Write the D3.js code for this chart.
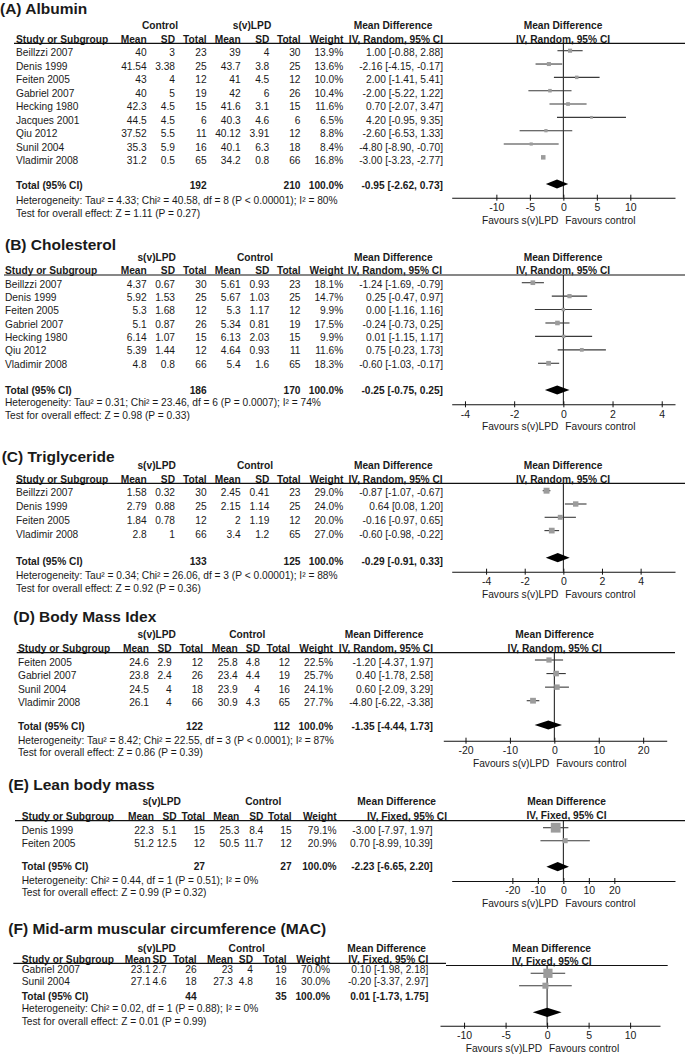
<!DOCTYPE html>
<html><head><meta charset="utf-8">
<script src="https://cdn.jsdelivr.net/npm/d3@7"></script>
<style>
body{margin:0;background:#fff}
svg{display:block}
text{font-family:"Liberation Sans",Arial,sans-serif;fill:#1a1a1a}
</style>
</head><body>
<svg id="chart" width="685" height="1055"></svg>
<script>
// ---------- (A) Albumin ----------
const albStudy = ["Beillzzi 2007","Denis 1999","Feiten 2005","Gabriel 2007","Hecking 1980","Jacques 2001","Qiu 2012","Sunil 2004","Vladimir 2008"];
const albMean1 = [40, 41.54, 43, 40, 42.3, 44.5, 37.52, 35.3, 31.2];
const albSD1   = [3, 3.38, 4, 5, 4.5, 4.5, 5.5, 5.9, 0.5];
const albN1    = [23, 25, 12, 19, 15, 6, 11, 16, 65];
const albMean2 = [39, 43.7, 41, 42, 41.6, 40.3, 40.12, 40.1, 34.2];
const albSD2   = [4, 3.8, 4.5, 6, 3.1, 4.6, 3.91, 6.3, 0.8];
const albN2    = [30, 25, 12, 26, 15, 6, 12, 18, 66];
const albWeight= [13.9, 13.6, 10.0, 10.4, 11.6, 6.5, 8.8, 8.4, 16.8];
const albMD    = [1.00, -2.16, 2.00, -2.00, 0.70, 4.20, -2.60, -4.80, -3.00];
const albLo    = [-0.88, -4.15, -1.41, -5.22, -2.07, -0.95, -6.53, -8.90, -3.23];
const albHi    = [2.88, -0.17, 5.41, 1.22, 3.47, 9.35, 1.33, -0.70, -2.77];
const albTotal = [192, 210, -0.95, -2.62, 0.73];
const albTicks = [-10, -5, 0, 5, 10];

// ---------- (B) Cholesterol ----------
const choStudy = ["Beillzzi 2007","Denis 1999","Feiten 2005","Gabriel 2007","Hecking 1980","Qiu 2012","Vladimir 2008"];
const choMean1 = [4.37, 5.92, 5.3, 5.1, 6.14, 5.39, 4.8];
const choSD1   = [0.67, 1.53, 1.68, 0.87, 1.07, 1.44, 0.8];
const choN1    = [30, 25, 12, 26, 15, 12, 66];
const choMean2 = [5.61, 5.67, 5.3, 5.34, 6.13, 4.64, 5.4];
const choSD2   = [0.93, 1.03, 1.17, 0.81, 2.03, 0.93, 1.6];
const choN2    = [23, 25, 12, 19, 15, 11, 65];
const choWeight= [18.1, 14.7, 9.9, 17.5, 9.9, 11.6, 18.3];
const choMD    = [-1.24, 0.25, 0.00, -0.24, 0.01, 0.75, -0.60];
const choLo    = [-1.69, -0.47, -1.16, -0.73, -1.15, -0.23, -1.03];
const choHi    = [-0.79, 0.97, 1.16, 0.25, 1.17, 1.73, -0.17];
const choTotal = [186, 170, -0.25, -0.75, 0.25];
const choTicks = [-4, -2, 0, 2, 4];

// ---------- (C) Triglyceride ----------
const triStudy = ["Beillzzi 2007","Denis 1999","Feiten 2005","Vladimir 2008"];
const triMean1 = [1.58, 2.79, 1.84, 2.8];
const triSD1   = [0.32, 0.88, 0.78, 1];
const triN1    = [30, 25, 12, 66];
const triMean2 = [2.45, 2.15, 2, 3.4];
const triSD2   = [0.41, 1.14, 1.19, 1.2];
const triN2    = [23, 25, 12, 65];
const triWeight= [29.0, 24.0, 20.0, 27.0];
const triMD    = [-0.87, 0.64, -0.16, -0.60];
const triLo    = [-1.07, 0.08, -0.97, -0.98];
const triHi    = [-0.67, 1.20, 0.65, -0.22];
const triTotal = [133, 125, -0.29, -0.91, 0.33];
const triTicks = [-4, -2, 0, 2, 4];

// ---------- (D) Body Mass Idex ----------
const bmiStudy = ["Feiten 2005","Gabriel 2007","Sunil 2004","Vladimir 2008"];
const bmiMean1 = [24.6, 23.8, 24.5, 26.1];
const bmiSD1   = [2.9, 2.4, 4, 4];
const bmiN1    = [12, 26, 18, 66];
const bmiMean2 = [25.8, 23.4, 23.9, 30.9];
const bmiSD2   = [4.8, 4.4, 4, 4.3];
const bmiN2    = [12, 19, 16, 65];
const bmiWeight= [22.5, 25.7, 24.1, 27.7];
const bmiMD    = [-1.20, 0.40, 0.60, -4.80];
const bmiLo    = [-4.37, -1.78, -2.09, -6.22];
const bmiHi    = [1.97, 2.58, 3.29, -3.38];
const bmiTotal = [122, 112, -1.35, -4.44, 1.73];
const bmiTicks = [-20, -10, 0, 10, 20];

// ---------- (E) Lean body mass ----------
const lbmStudy = ["Denis 1999","Feiten 2005"];
const lbmMean1 = [22.3, 51.2];
const lbmSD1   = [5.1, 12.5];
const lbmN1    = [15, 12];
const lbmMean2 = [25.3, 50.5];
const lbmSD2   = [8.4, 11.7];
const lbmN2    = [15, 12];
const lbmWeight= [79.1, 20.9];
const lbmMD    = [-3.00, 0.70];
const lbmLo    = [-7.97, -8.99];
const lbmHi    = [1.97, 10.39];
const lbmTotal = [27, 27, -2.23, -6.65, 2.20];
const lbmTicks = [-20, -10, 0, 10, 20];

// ---------- (F) MAC ----------
const macStudy = ["Gabriel 2007","Sunil 2004"];
const macMean1 = [23.1, 27.1];
const macSD1   = [2.7, 4.6];
const macN1    = [26, 18];
const macMean2 = [23, 27.3];
const macSD2   = [4, 4.8];
const macN2    = [19, 16];
const macWeight= [70.0, 30.0];
const macMD    = [0.10, -0.20];
const macLo    = [-1.98, -3.37];
const macHi    = [2.18, 2.97];
const macTotal = [44, 35, 0.01, -1.73, 1.75];
const macTicks = [-10, -5, 0, 5, 10];

const panelsData = [
  {title:"(A) Albumin", g1:"Control", g2:"s(v)LPD", method:"IV, Random, 95% CI",
   study:albStudy, m1:albMean1, s1:albSD1, n1:albN1, m2:albMean2, s2:albSD2, n2:albN2, w:albWeight, md:albMD, lo:albLo, hi:albHi, total:albTotal, ticks:albTicks,
   het:"Heterogeneity: Tau\u00b2 = 4.33; Chi\u00b2 = 40.58, df = 8 (P < 0.00001); I\u00b2 = 80%",
   test:"Test for overall effect: Z = 1.11 (P = 0.27)"},
  {title:"(B) Cholesterol", g1:"s(v)LPD", g2:"Control", method:"IV, Random, 95% CI",
   study:choStudy, m1:choMean1, s1:choSD1, n1:choN1, m2:choMean2, s2:choSD2, n2:choN2, w:choWeight, md:choMD, lo:choLo, hi:choHi, total:choTotal, ticks:choTicks,
   het:"Heterogeneity: Tau\u00b2 = 0.31; Chi\u00b2 = 23.46, df = 6 (P = 0.0007); I\u00b2 = 74%",
   test:"Test for overall effect: Z = 0.98 (P = 0.33)"},
  {title:"(C) Triglyceride", g1:"s(v)LPD", g2:"Control", method:"IV, Random, 95% CI",
   study:triStudy, m1:triMean1, s1:triSD1, n1:triN1, m2:triMean2, s2:triSD2, n2:triN2, w:triWeight, md:triMD, lo:triLo, hi:triHi, total:triTotal, ticks:triTicks,
   het:"Heterogeneity: Tau\u00b2 = 0.34; Chi\u00b2 = 26.06, df = 3 (P < 0.00001); I\u00b2 = 88%",
   test:"Test for overall effect: Z = 0.92 (P = 0.36)"},
  {title:"(D) Body Mass Idex", g1:"s(v)LPD", g2:"Control", method:"IV, Random, 95% CI",
   study:bmiStudy, m1:bmiMean1, s1:bmiSD1, n1:bmiN1, m2:bmiMean2, s2:bmiSD2, n2:bmiN2, w:bmiWeight, md:bmiMD, lo:bmiLo, hi:bmiHi, total:bmiTotal, ticks:bmiTicks,
   het:"Heterogeneity: Tau\u00b2 = 8.42; Chi\u00b2 = 22.55, df = 3 (P < 0.0001); I\u00b2 = 87%",
   test:"Test for overall effect: Z = 0.86 (P = 0.39)"},
  {title:"(E) Lean body mass", g1:"s(v)LPD", g2:"Control", method:"IV, Fixed, 95% CI",
   study:lbmStudy, m1:lbmMean1, s1:lbmSD1, n1:lbmN1, m2:lbmMean2, s2:lbmSD2, n2:lbmN2, w:lbmWeight, md:lbmMD, lo:lbmLo, hi:lbmHi, total:lbmTotal, ticks:lbmTicks,
   het:"Heterogeneity: Chi\u00b2 = 0.44, df = 1 (P = 0.51); I\u00b2 = 0%",
   test:"Test for overall effect: Z = 0.99 (P = 0.32)"},
  {title:"(F) Mid-arm muscular circumference (MAC)", g1:"s(v)LPD", g2:"Control", method:"IV, Fixed, 95% CI",
   study:macStudy, m1:macMean1, s1:macSD1, n1:macN1, m2:macMean2, s2:macSD2, n2:macN2, w:macWeight, md:macMD, lo:macLo, hi:macHi, total:macTotal, ticks:macTicks,
   het:"Heterogeneity: Chi\u00b2 = 0.02, df = 1 (P = 0.88); I\u00b2 = 0%",
   test:"Test for overall effect: Z = 0.01 (P = 0.99)"}
];

// ---------- layout (positions only) ----------
const colsStd = {m1:146.7, s1:175, n1:206.7, m2:240.7, s2:269.3, n2:300.5, w:343.3, ci:443};
const layouts = [
  {tx:0, ty:8.5, study:16, cols:colsStd, g1x:160, g2x:252, gmx:393, ciHead:443,
   gy:25, cy:39.5, ly:43.3, lx0:14, lx1:685, r0:52.7, rs:13.5, toty:185, hety:200.7, testy:213.3,
   hx:563, pcy:39.5, ply:43.3, p0:50.7, ps:13.33, dy:184, ay:197.7, dom:[-16.67,16.67], rng:[451.7,675]},
  {tx:5, ty:245, study:5, cols:colsStd, g1x:156.7, g2x:255, gmx:393.3, ciHead:442,
   gy:257.7, cy:270, ly:275, lx0:4, lx1:685, r0:284, rs:13.33, toty:390, hety:402.7, testy:415,
   hx:563, pcy:270, ply:275, p0:282.7, ps:13.43, dy:390, ay:404.3, dom:[-4.54,4.54], rng:[451.7,675]},
  {tx:1.7, ty:457, study:16, cols:colsStd, g1x:156.7, g2x:255, gmx:393.3, ciHead:442.7,
   gy:465, cy:479, ly:483.3, lx0:16, lx1:685, r0:492.7, rs:13.8, toty:561.7, hety:575, testy:588,
   hx:563, pcy:479, ply:483.3, p0:490.7, ps:13.3, dy:557.7, ay:571.7, dom:[-5.78,5.78], rng:[451.7,675]},
  {tx:13.3, ty:616.7, study:18, cols:{m1:149, s1:171.7, n1:203, m2:237.7, s2:260, n2:290, w:333, ci:433}, g1x:156.7, g2x:247.3, gmx:384, ciHead:433,
   gy:634, cy:648.3, ly:652.7, lx0:16.7, lx1:675, r0:662.3, rs:13.47, toty:726.7, hety:740, testy:752.7,
   hx:554.7, pcy:648.3, ply:652.7, p0:660, ps:13.57, dy:725, ay:740.7, dom:[-25,25.3], rng:[443.3,666.7]},
  {tx:8.3, ty:785, study:21.7, cols:{m1:154, s1:176.7, n1:205, m2:239.3, s2:263.3, n2:291.7, w:336.7, ci:432.7}, g1x:161.7, g2x:263.3, gmx:396.7, ciHead:447,
   gy:801.7, cy:816.7, ly:820.7, lx0:15, lx1:685, r0:830, rs:13.3, toty:866.7, hety:880, testy:892.3,
   hx:566.5, pcy:815.5, ply:820.7, p0:827.7, ps:13, dy:866.7, ay:881, dom:[-43.8,43.8], rng:[451.7,675]},
  {tx:8.3, ty:928.3, study:21.7, cols:{m1:150.7, s1:166.7, n1:196.7, m2:233, s2:253, n2:286.7, w:330, ci:428.3}, g1x:156.7, g2x:246.7, gmx:386.7, ciHead:428.3,
   gy:948.3, cy:959.3, ly:963.3, lx0:13.3, lx1:667.7, r0:969.5, rs:11.5, toty:996.7, hety:1008.5, testy:1021,
   hx:551.7, pcy:961.5, ply:965.5, p0:973.3, ps:12.4, dy:1012.3, ay:1025.7, dom:[-12.9,13.6], rng:[440,660]}
];

const FS = 10.2;
const svg = d3.select("#chart");
const sizeScale = d3.scaleSqrt().domain([0, 100]).range([0, 11]);

function txt(g, x, y, s, anchor, bold, size) {
  return g.append("text").attr("x", x).attr("y", y).attr("dy", "0.35em")
    .attr("text-anchor", anchor || "start")
    .attr("font-size", size || FS)
    .attr("font-weight", bold ? "bold" : "normal")
    .text(s);
}
const fmtCI = (m, l, h) => `${m.toFixed(2)} [${l.toFixed(2)}, ${h.toFixed(2)}]`;

panelsData.forEach((p, i) => {
  const L = layouts[i];
  const g = svg.append("g");
  const c = L.cols;
  // title
  txt(g, L.tx, L.ty, p.title, "start", true, 15.5);
  // group header
  txt(g, L.g1x, L.gy, p.g1, "middle", true);
  txt(g, L.g2x, L.gy, p.g2, "middle", true);
  txt(g, L.gmx, L.gy, "Mean Difference", "middle", true);
  txt(g, L.hx, L.gy, "Mean Difference", "middle", true);
  // column header
  txt(g, L.study, L.cy, "Study or Subgroup", "start", true);
  [["Mean", c.m1], ["SD", c.s1], ["Total", c.n1], ["Mean", c.m2], ["SD", c.s2], ["Total", c.n2], ["Weight", c.w]]
    .forEach(([s, x]) => txt(g, x, L.cy, s, "end", true));
  txt(g, L.ciHead, L.cy, p.method, "end", true);
  txt(g, L.hx, L.pcy, p.method, "middle", true);
  // header rule
  g.append("line").attr("x1", L.lx0).attr("x2", 446).attr("y1", L.ly).attr("y2", L.ly).attr("stroke", "#111").attr("stroke-width", 1.2);
  g.append("line").attr("x1", 446).attr("x2", L.lx1).attr("y1", L.ply).attr("y2", L.ply).attr("stroke", "#111").attr("stroke-width", 1.2);

  // table rows
  const rowY = d3.scaleLinear().domain([0, 1]).range([L.r0, L.r0 + L.rs]);
  p.study.forEach((s, j) => {
    const y = rowY(j);
    txt(g, L.study, y, s);
    txt(g, c.m1, y, String(p.m1[j]), "end");
    txt(g, c.s1, y, String(p.s1[j]), "end");
    txt(g, c.n1, y, String(p.n1[j]), "end");
    txt(g, c.m2, y, String(p.m2[j]), "end");
    txt(g, c.s2, y, String(p.s2[j]), "end");
    txt(g, c.n2, y, String(p.n2[j]), "end");
    txt(g, c.w, y, p.w[j].toFixed(1) + "%", "end");
    txt(g, c.ci, y, fmtCI(p.md[j], p.lo[j], p.hi[j]), "end");
  });
  // total
  const T = p.total;
  txt(g, L.study, L.toty, "Total (95% CI)", "start", true);
  txt(g, c.n1, L.toty, String(T[0]), "end", true);
  txt(g, c.n2, L.toty, String(T[1]), "end", true);
  txt(g, c.w, L.toty, "100.0%", "end", true);
  txt(g, c.ci, L.toty, fmtCI(T[2], T[3], T[4]), "end", true);
  txt(g, L.study, L.hety, p.het);
  txt(g, L.study, L.testy, p.test);

  // forest plot
  const x = d3.scaleLinear().domain(L.dom).range(L.rng);
  const py = d3.scaleLinear().domain([0, 1]).range([L.p0, L.p0 + L.ps]);
  g.append("line").attr("x1", x(0)).attr("x2", x(0)).attr("y1", L.ply).attr("y2", L.ay)
    .attr("stroke", "#111").attr("stroke-width", 1);
  p.study.forEach((s, j) => {
    const y = py(j);
    g.append("line").attr("x1", x(p.lo[j])).attr("x2", x(p.hi[j])).attr("y1", y).attr("y2", y)
      .attr("stroke", "#3a3a3a").attr("stroke-width", 1.1);
    const sz = Math.max(2.6, sizeScale(p.w[j]));
    g.append("rect").attr("x", x(p.md[j]) - sz / 2).attr("y", y - sz / 2)
      .attr("width", sz).attr("height", sz).attr("fill", "#9c9c9c");
  });
  const dh = 4.6;
  g.append("path")
    .attr("d", `M${x(T[3])},${L.dy}L${x(T[2])},${L.dy - dh}L${x(T[4])},${L.dy}L${x(T[2])},${L.dy + dh}Z`)
    .attr("fill", "#000");
  const ax = g.append("g").attr("transform", `translate(0,${L.ay})`)
    .call(d3.axisBottom(x).tickValues(p.ticks).tickSizeOuter(0).tickSizeInner(3).tickFormat(d => String(d)));
  ax.select(".domain").attr("stroke", "#111").attr("stroke-width", 1.1);
  ax.selectAll(".tick line").attr("y1", -3).attr("y2", 3).attr("stroke", "#111");
  ax.selectAll(".tick text").attr("y", 6).attr("dy", "0.71em")
    .attr("font-size", 10.5).attr("font-family", "Liberation Sans, Arial, sans-serif").attr("fill", "#1a1a1a");
  txt(g, x(0) - 5, L.ay + 22.5, "Favours s(v)LPD", "end");
  txt(g, x(0) + 2, L.ay + 22.5, "Favours control", "start");
});
</script>
</body></html>
